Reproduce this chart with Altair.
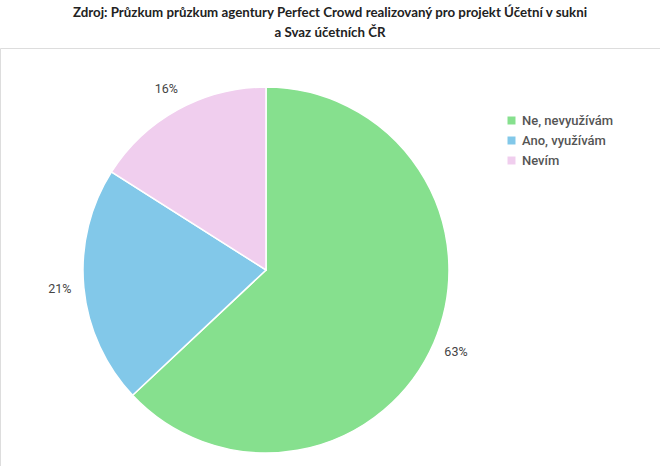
import altair as alt
import pandas as pd

categories = ["Ne, nevyužívám", "Ano, využívám", "Nevím"]
values = [63, 21, 16]
labels = ["63%", "21%", "16%"]
colors = ["#86E08E", "#82C8E9", "#F0CEEE"]

df = pd.DataFrame({
    "kategorie": categories,
    "hodnota": values,
    "popisek": labels,
    "poradi": list(range(len(categories))),
})

top_pad = 48
cx, cy = 266, 270 - top_pad

base = alt.Chart(df).encode(
    theta=alt.Theta("hodnota:Q", stack=True),
    order=alt.Order("poradi:Q"),
)

pie = base.mark_arc(outerRadius=183, stroke="white", strokeWidth=1.5).encode(
    x=alt.value(cx),
    y=alt.value(cy),
    color=alt.Color(
        "kategorie:N",
        scale=alt.Scale(domain=categories, range=colors),
        sort=categories,
        legend=alt.Legend(
            title=None,
            orient="none",
            legendX=505,
            legendY=114 - top_pad,
            symbolType="square",
            symbolSize=64,
            symbolStrokeWidth=0,
            labelFont="Roboto",
            labelFontSize=13,
            labelFontWeight=500,
            labelColor="#555555",
            rowPadding=6,
            labelOffset=4,
        ),
    ),
)

text = base.mark_text(
    radius=207, font="Roboto", fontSize=12.5, color="#444444"
).encode(
    x=alt.value(cx),
    y=alt.value(cy),
    text="popisek:N",
)

chart = (
    alt.layer(pie, text)
    .properties(
        width=660,
        height=466 - top_pad,
        autosize="none",
        padding={"top": top_pad, "left": 0, "right": 0, "bottom": 0},
        title=alt.Title(
            ["Zdroj: Průzkum průzkum agentury Perfect Crowd realizovaný pro projekt Účetní v sukni",
             "a Svaz účetních ČR"],
            font="Lato",
            fontSize=13.3,
            fontWeight="bold",
            color="#222222",
            anchor="middle",
            lineHeight=20,
            offset=9,
        ),
    )
    .configure_view(stroke=None)
    .configure(background="white")
)

chart.save("out.html", embed_options={"renderer": "svg", "actions": False})
